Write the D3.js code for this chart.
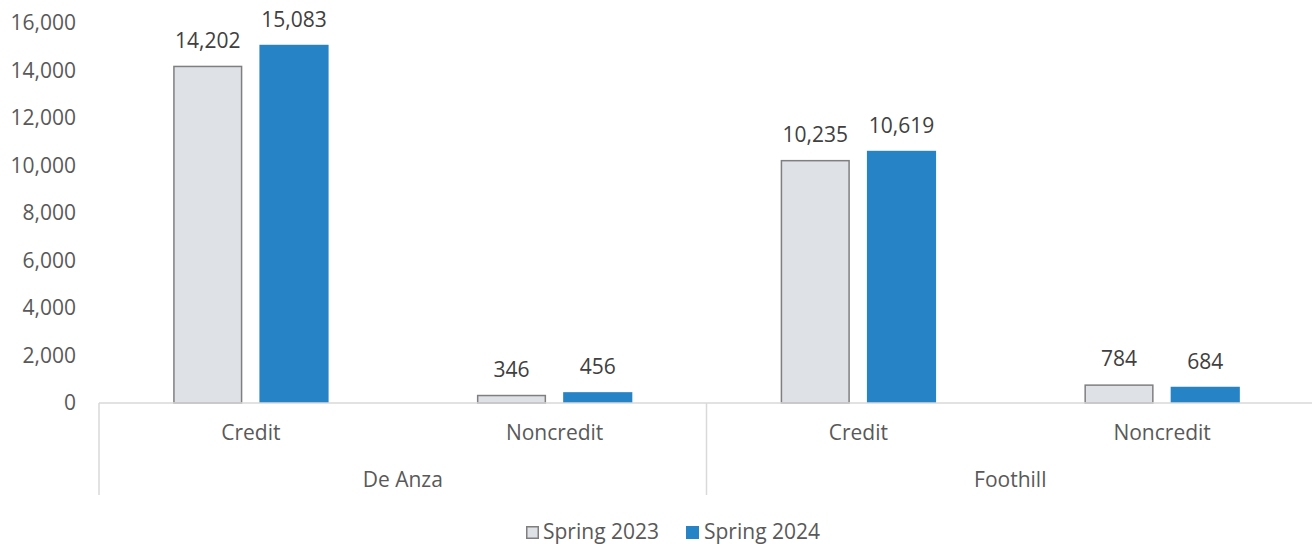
<!DOCTYPE html>
<html>
<head>
<meta charset="utf-8">
<script src="https://cdn.jsdelivr.net/npm/d3@7"></script>
<style>
  html, body { margin: 0; padding: 0; background: #fff; }
  svg { display: block; }
  text { font-family: "Open Sans", "Noto Sans", sans-serif; }
</style>
</head>
<body>
<svg id="chart" width="1312" height="544"></svg>
<script>
const groups = ["De Anza", "Foothill"];
const types = ["Credit", "Noncredit"];
const seriesNames = ["Spring 2023", "Spring 2024"];
const spring2023 = [14202, 346, 10235, 784];
const spring2024 = [15083, 456, 10619, 684];
const yTicks = [0, 2000, 4000, 6000, 8000, 10000, 12000, 14000, 16000];
const colors = ["#dee1e5", "#2683c6"];

(function () {
const svg = d3.select("#chart");
const pLeft = 99, pRight = 1314, pTop = 23, pBottom = 403;
const fs = 21;

const cats = [];
groups.forEach(g => types.forEach(t => cats.push(g + "|" + t)));

const x = d3.scaleBand().domain(cats).range([pLeft, pRight]).paddingInner(0).paddingOuter(0);
const xGroup = d3.scaleBand().domain(groups).range([pLeft, pRight]);
const xSub = d3.scaleBand().domain(seriesNames).range([0, x.bandwidth()]).paddingInner(0.198).paddingOuter(0.86);
const y = d3.scaleLinear().domain([0, 16000]).range([pBottom, pTop]);

const fmt = d3.format(",");

// y axis labels
const yAxis = d3.axisLeft(y).tickValues(yTicks).tickFormat(fmt).tickSize(0).tickPadding(0);
const yg = svg.append("g").attr("transform", `translate(76,0)`).call(yAxis);
yg.select(".domain").remove();
yg.selectAll("text").attr("font-size", fs).attr("fill", "#595959")
  .attr("font-family", '"Open Sans", sans-serif');

// bars
const data = [];
cats.forEach((c, i) => {
  data.push({cat: c, s: seriesNames[0], v: spring2023[i], idx: 0});
  data.push({cat: c, s: seriesNames[1], v: spring2024[i], idx: 1});
});

svg.append("g").selectAll("rect").data(data).join("rect")
  .attr("x", d => x(d.cat) + xSub(d.s) + (d.idx === 0 ? 0.75 : 0))
  .attr("y", d => y(d.v) + (d.idx === 0 ? 0.75 : 0))
  .attr("width", d => xSub.bandwidth() - (d.idx === 0 ? 1.5 : 0))
  .attr("height", d => y(0) - y(d.v) - (d.idx === 0 ? 0.75 : 0))
  .attr("fill", d => colors[d.idx])
  .attr("stroke", d => d.idx === 0 ? "#7f7f7f" : "none")
  .attr("stroke-width", 1.5);

// value labels
svg.append("g").selectAll("text").data(data).join("text")
  .attr("x", d => x(d.cat) + xSub(d.s) + xSub.bandwidth() / 2)
  .attr("y", d => y(d.v) - 18)
  .attr("text-anchor", "middle")
  .attr("font-size", fs)
  .attr("fill", "#404040")
  .text(d => fmt(d.v));

// x axis baseline
const axisColor = "#d9d9d9";
svg.append("line").attr("x1", pLeft).attr("x2", pRight).attr("y1", y(0)).attr("y2", y(0))
  .attr("stroke", axisColor).attr("stroke-width", 1.5);

// group dividers
groups.forEach(g => {
  svg.append("line").attr("x1", xGroup(g)).attr("x2", xGroup(g))
    .attr("y1", y(0)).attr("y2", 495)
    .attr("stroke", axisColor).attr("stroke-width", 1.5);
});

// category labels
svg.append("g").selectAll("text").data(cats).join("text")
  .attr("x", d => x(d) + x.bandwidth() / 2)
  .attr("y", 440)
  .attr("text-anchor", "middle")
  .attr("font-size", fs)
  .attr("fill", "#595959")
  .text(d => d.split("|")[1]);

svg.append("g").selectAll("text").data(groups).join("text")
  .attr("x", d => xGroup(d) + xGroup.bandwidth() / 2)
  .attr("y", 487)
  .attr("text-anchor", "middle")
  .attr("font-size", fs)
  .attr("fill", "#595959")
  .text(d => d);

// legend
const legendItems = [
  {name: seriesNames[0], bx: 526, tx: 543},
  {name: seriesNames[1], bx: 686, tx: 704}
];
const lg = svg.append("g");
legendItems.forEach((it, i) => {
  lg.append("rect").attr("x", it.bx + (i === 0 ? 0.75 : 0)).attr("y", 526 + (i === 0 ? 0.75 : 0))
    .attr("width", 13 - (i === 0 ? 1.5 : 0)).attr("height", 13 - (i === 0 ? 1.5 : 0))
    .attr("fill", colors[i])
    .attr("stroke", i === 0 ? "#7f7f7f" : "none").attr("stroke-width", 1.5);
  lg.append("text").attr("x", it.tx).attr("y", 539)
    .attr("font-size", fs).attr("fill", "#595959").text(it.name);
});
})();
</script>
</body>
</html>
